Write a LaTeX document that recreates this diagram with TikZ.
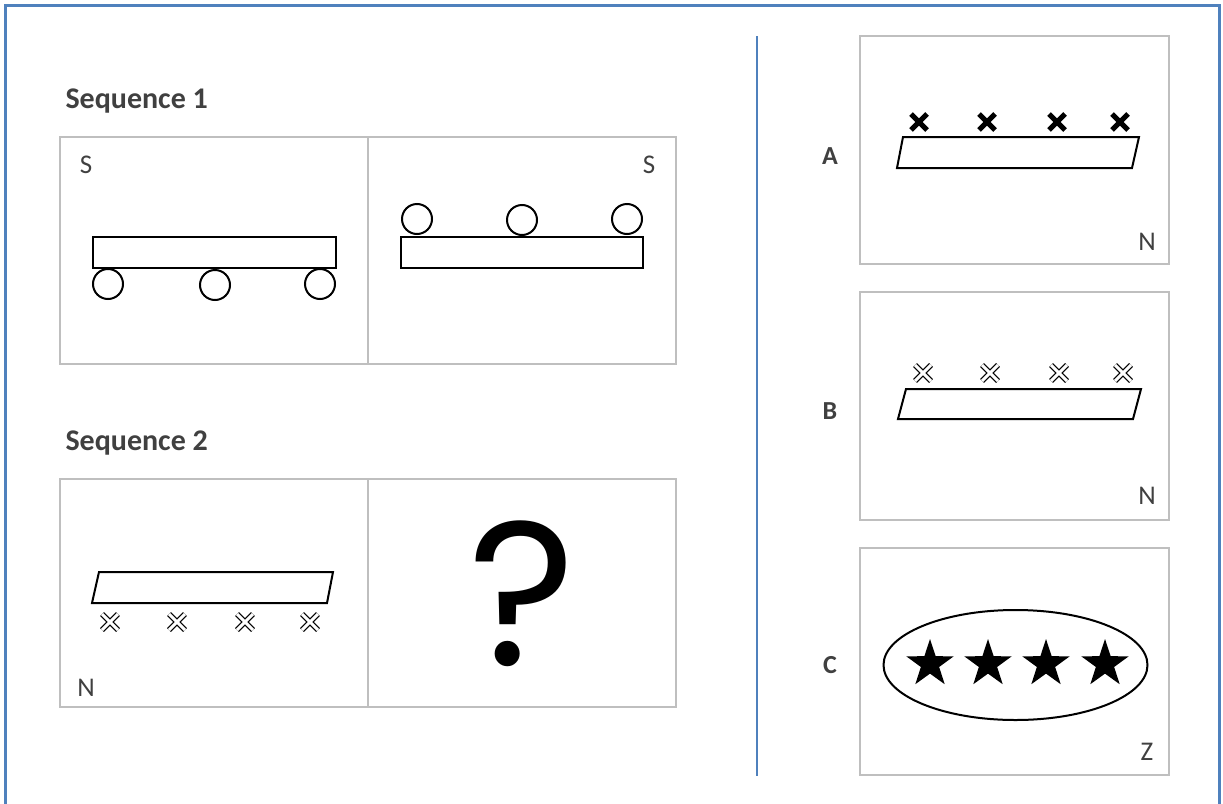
\documentclass[tikz,border=0pt]{standalone}
\usepackage{fontspec}
\setmainfont{Carlito}
\newfontfamily\qmarkfont{Poppins}
\usetikzlibrary{shapes.geometric}
\definecolor{frameblue}{HTML}{4F81BD}
\definecolor{panelgray}{HTML}{BFBFBF}
\definecolor{labelgray}{HTML}{404040}
\tikzset{
	panel/.style={draw=panelgray,line width=2},
	figline/.style={draw=black,line width=2},
	boldx/.style={line width=5},
	hollowx/.style={line width=5.6,postaction={draw=white,line width=3}},
	corner/.style={text=labelgray,font=\fontsize{27}{29}\selectfont},
	heading/.style={text=labelgray,font=\fontsize{30}{32}\selectfont\bfseries,anchor=base west},
	optname/.style={text=labelgray,font=\fontsize{26}{28}\selectfont\bfseries},
	bigstar/.style={star,star points=5,star point ratio=2.6,fill=black,inner sep=0,minimum size=50}
}
\begin{document}
\begin{tikzpicture}[x=1pt,y=-1pt]
	\useasboundingbox (0,0) rectangle (1223,803);
	% outer frame and divider
	\draw[frameblue,line width=3] (5.5,810) -- (5.5,5.5) -- (1219.5,5.5) -- (1219.5,810);
	\draw[frameblue,line width=2] (757,36) -- (757,776);
	% sequence 1
	\node[heading] (seq1) at (62,108) {Sequence 1};
	\draw[panel] (60,137) rectangle (676,364);
	\draw[panel] (368,137) -- (368,364);
	\node[corner] (s1) at (86,165) {S};
	\node[corner] (s2) at (649,165) {S};
	\draw[figline] (93,237) rectangle (336,268);
	\draw[figline] (108,284) circle (15);
	\draw[figline] (215,285) circle (15);
	\draw[figline] (320,284) circle (15);
	\draw[figline] (401,237) rectangle (643,268);
	\draw[figline] (417,219) circle (15);
	\draw[figline] (522,220) circle (15);
	\draw[figline] (627,219) circle (15);
	% sequence 2
	\node[heading] (seq2) at (62,450) {Sequence 2};
	\draw[panel] (60,479) rectangle (676,707);
	\draw[panel] (368,479) -- (368,707);
	\node[corner] (n1) at (86,688) {N};
	\draw[figline] (99,572) -- (333,572) -- (327,603) -- (92,603) -- cycle;
	\draw[hollowx] (102,614) -- (118,630) (102,630) -- (118,614);
	\draw[hollowx] (169,614) -- (185,630) (169,630) -- (185,614);
	\draw[hollowx] (237,614) -- (253,630) (237,630) -- (253,614);
	\draw[hollowx] (302,614) -- (318,630) (302,630) -- (318,614);
	\node[anchor=base,inner sep=0,font=\qmarkfont\fontsize{205}{205}\selectfont] (qm) at (522,665) {?};
	% option A
	\node[optname] (a) at (830,156) {A};
	\draw[panel] (860,36) rectangle (1169,264);
	\node[corner] (n2) at (1147,242) {N};
	\draw[figline] (903,137) -- (1139,137) -- (1132,168) -- (897,168) -- cycle;
	\draw[boldx] (911,114) -- (927,130) (911,130) -- (927,114);
	\draw[boldx] (979,114) -- (995,130) (979,130) -- (995,114);
	\draw[boldx] (1049,114) -- (1065,130) (1049,130) -- (1065,114);
	\draw[boldx] (1112,114) -- (1128,130) (1112,130) -- (1128,114);
	% option B
	\node[optname] (b) at (830,411) {B};
	\draw[panel] (860,292) rectangle (1169,520);
	\node[corner] (n3) at (1147,496) {N};
	\draw[figline] (906,389) -- (1141,389) -- (1133,419) -- (898,419) -- cycle;
	\draw[hollowx] (915,365) -- (931,381) (915,381) -- (931,365);
	\draw[hollowx] (982,365) -- (998,381) (982,381) -- (998,365);
	\draw[hollowx] (1051,365) -- (1067,381) (1051,381) -- (1067,365);
	\draw[hollowx] (1115,365) -- (1131,381) (1115,381) -- (1131,365);
	% option C
	\node[optname] (c) at (830,665) {C};
	\draw[panel] (860,548) rectangle (1169,775);
	\node[corner] (z) at (1147,752) {Z};
	\draw[figline] (1015.5,665) ellipse (132 and 55);
	\node[bigstar] (st1) at (930,664) {};
	\node[bigstar] (st2) at (988,664) {};
	\node[bigstar] (st3) at (1046,664) {};
	\node[bigstar] (st4) at (1105,664) {};
\end{tikzpicture}
\end{document}
